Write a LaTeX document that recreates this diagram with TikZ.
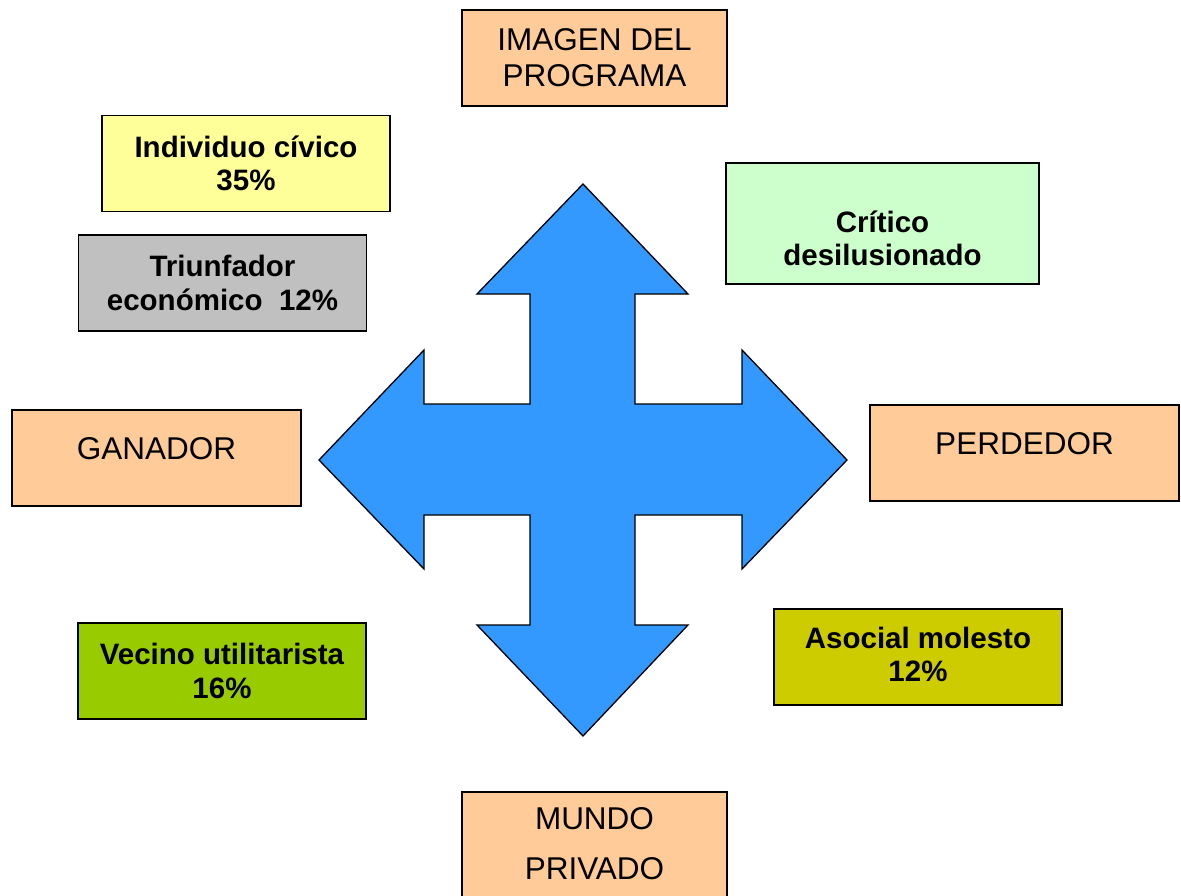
\documentclass[tikz,border=0pt]{standalone}
\usepackage{fontspec}
\setmainfont{Liberation Sans}
\definecolor{durazno}{HTML}{FFCC99}
\definecolor{amarillo}{HTML}{FFFF99}
\definecolor{gris}{HTML}{C0C0C0}
\definecolor{verdeclaro}{HTML}{CCFFCC}
\definecolor{verdelima}{HTML}{99CC00}
\definecolor{oliva}{HTML}{CCCC00}
\definecolor{azul}{HTML}{3399FF}
\begin{document}
\begin{tikzpicture}[x=1pt,y=-1pt,
  caja/.style={draw=black, line width=1.8pt, inner sep=0pt, align=center,
    minimum width=288pt, minimum height=96pt},
  texto/.style={inner sep=0pt, align=center, font=\fontsize{31.5}{36}\selectfont},
  negrita/.style={inner sep=0pt, align=center, font=\fontsize{29.5}{33.5}\selectfont\bfseries}]

  \useasboundingbox (0,0) rectangle (1181,896);

  \filldraw[fill=azul, draw=black, line width=1.3pt]
    (583,184) -- (688,294) -- (635,294) -- (635,404) -- (742,404) -- (742,350)
    -- (847,460) -- (742,569) -- (742,515) -- (635,515) -- (635,625) -- (688,625)
    -- (583,736) -- (477,625) -- (530,625) -- (530,515) -- (424,515) -- (424,569)
    -- (319,460) -- (424,350) -- (424,404) -- (530,404) -- (530,294) -- (477,294)
    -- cycle;

  \node[caja, fill=durazno, minimum width=265pt, texto] (imagen) at (594.5,58) {IMAGEN DEL\\PROGRAMA};
  \node[caja, fill=amarillo, negrita] (civico) at (246,163.5) {Individuo cívico\\35\%};
  \node[caja, fill=gris, negrita] (triunfador) at (222.5,283) {Triunfador\\económico\ \ 12\%};
  \node[caja, fill=verdeclaro, minimum width=313pt, minimum height=121pt] (critico) at (882.5,223.5) {};
  \node[negrita] (critico texto) at ([yshift=-15pt]critico.center) {Crítico\\desilusionado};

  \node[caja, fill=durazno, minimum width=289pt] (ganador) at (156.5,458) {};
  \node[texto] (ganador texto) at ([yshift=9pt]ganador.center) {GANADOR};
  \node[caja, fill=durazno, minimum width=309pt] (perdedor) at (1024.5,453) {};
  \node[texto] (perdedor texto) at ([yshift=9.5pt]perdedor.center) {PERDEDOR};

  \node[caja, fill=verdelima, negrita] (vecino) at (222,671) {Vecino utilitarista\\16\%};
  \node[caja, fill=oliva, negrita] (asocial) at (918,657) {};
  \node[negrita] (asocial texto) at ([yshift=2.5pt]asocial.center) {Asocial molesto\\12\%};

  \node[caja, fill=durazno, minimum width=265pt, minimum height=108pt] (mundo) at (594.5,846) {};
  \node[texto, font=\fontsize{31.5}{50}\selectfont] (mundo texto) at ([yshift=2pt]mundo.center) {MUNDO\\PRIVADO};

\end{tikzpicture}
\end{document}
